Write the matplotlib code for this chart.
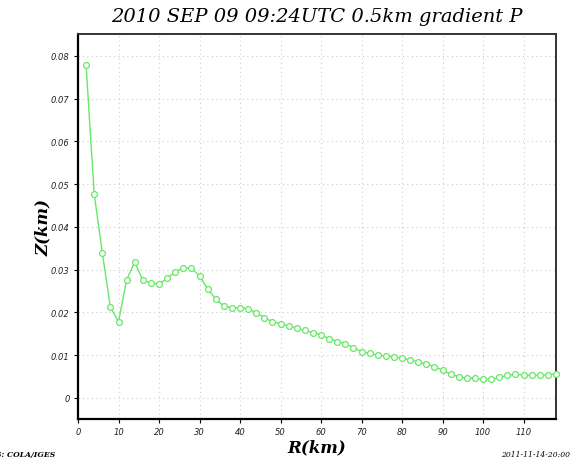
import matplotlib
matplotlib.use("Agg")
import matplotlib.pyplot as plt

r_km = [2, 4, 6, 8, 10, 12, 14, 16, 18, 20, 22, 24, 26, 28, 30, 32, 34, 36, 38, 40,
        42, 44, 46, 48, 50, 52, 54, 56, 58, 60, 62, 64, 66, 68, 70, 72, 74, 76, 78, 80,
        82, 84, 86, 88, 90, 92, 94, 96, 98, 100, 102, 104, 106, 108, 110, 112, 114, 116, 118]
z_km = [0.0778, 0.0477, 0.0340, 0.0212, 0.0178, 0.0276, 0.0318, 0.0275, 0.0269, 0.0266,
        0.0280, 0.0295, 0.0304, 0.0304, 0.0285, 0.0255, 0.0231, 0.0215, 0.0211, 0.0211,
        0.0209, 0.0199, 0.0188, 0.0178, 0.0174, 0.0168, 0.0163, 0.0158, 0.0153, 0.0147,
        0.0139, 0.0132, 0.0127, 0.0118, 0.0108, 0.0104, 0.0100, 0.0098, 0.0096, 0.0093,
        0.0089, 0.0084, 0.0079, 0.0073, 0.0065, 0.0055, 0.0050, 0.0046, 0.0046, 0.0044,
        0.0044, 0.0048, 0.0053, 0.0055, 0.0054, 0.0053, 0.0053, 0.0054, 0.0056]
x_ticks = [0, 10, 20, 30, 40, 50, 60, 70, 80, 90, 100, 110]
y_ticks = [0, 0.01, 0.02, 0.03, 0.04, 0.05, 0.06, 0.07, 0.08]
y_tick_labels = ["0", "0.01", "0.02", "0.03", "0.04", "0.05", "0.06", "0.07", "0.08"]
title = "2010 SEP 09 09:24UTC 0.5km gradient P"

fig = plt.figure(figsize=(5.71, 4.64), dpi=100)
ax = fig.add_axes([78/571, 1-419.5/464, (556-78)/571, (419.5-35)/464])

ax.plot(r_km, z_km, color="#66e866", lw=1.0, marker="o", markersize=4.2,
        markerfacecolor="white", markeredgecolor="#66e866", markeredgewidth=0.9,
        clip_on=False, zorder=3)

ax.set_xlim(0, 118)
ax.set_ylim(-0.0048, 0.0851)
ax.set_xticks(x_ticks)
ax.set_yticks(y_ticks)
ax.set_yticklabels(y_tick_labels)
ax.grid(True, color="#cccccc", linestyle=(0, (1, 3)), linewidth=0.8)
ax.set_axisbelow(True)

for lab in ax.get_xticklabels() + ax.get_yticklabels():
    lab.set_fontstyle("italic")
    lab.set_fontsize(6)
    lab.set_color("#222222")
ax.tick_params(axis="both", length=3, width=0.8, direction="out", pad=3)

for s in ["left", "bottom"]:
    ax.spines[s].set_linewidth(1.6)
    ax.spines[s].set_color("black")
for s in ["top", "right"]:
    ax.spines[s].set_linewidth(1.4)
    ax.spines[s].set_color("#333333")

fig.text(317/571, 1-17/464, title, ha="center", va="center", fontsize=14,
         family="DejaVu Serif", style="italic")
ax.set_xlabel("R(km)", fontsize=12, family="DejaVu Serif", style="italic",
              fontweight="bold", labelpad=1.5)
ax.set_ylabel("Z(km)", fontsize=12, family="DejaVu Serif", style="italic",
              fontweight="bold", labelpad=-1)
fig.text(55/571, 1-455/464, "GrADS: COLA/IGES", ha="right", va="center",
         fontsize=5.5, family="DejaVu Serif", style="italic", fontweight="bold")
fig.text(570/571, 1-455/464, "2011-11-14-20:00", ha="right", va="center",
         fontsize=5.5, family="DejaVu Serif", style="italic")

fig.savefig("out.png", dpi=100)
